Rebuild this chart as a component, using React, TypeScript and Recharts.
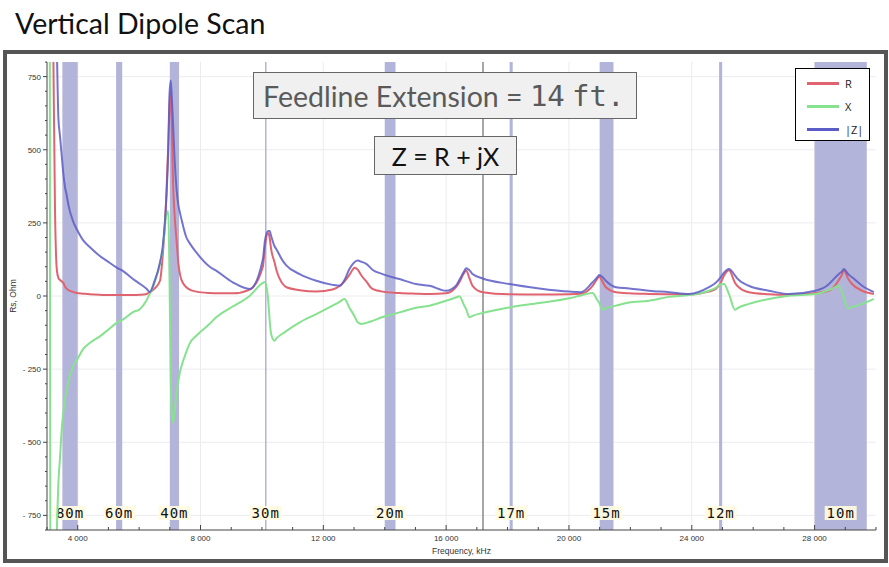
import React from "react";
import {
  LineChart, Line, XAxis, YAxis, CartesianGrid, ReferenceArea, ReferenceLine, Legend,
} from "recharts";

// scan points, kHz
const freqs = [
  3000, 3080, 3120, 3200, 3260, 3320, 3370, 3420, 3480, 3530, 3590, 3640, 3700, 3850, 3970,
  4180, 4400, 4720, 4940, 5270, 5480, 5800, 6020, 6240, 6350, 6500, 6680, 6770, 6890, 6950,
  6990, 7030, 7060, 7105, 7160, 7220, 7280, 7330, 7380, 7540, 7650, 7870, 8300, 8520, 9050,
  9600, 10030, 10100, 10200, 10250, 10300, 10410, 10470, 10680, 10800, 11230, 11770, 12300, 12530, 12690,
  12850, 13020, 13120, 13240, 13400, 13600, 13930, 14480, 15020, 15460, 16000, 16320, 16430, 16590, 16650,
  16760, 16860, 17190, 18060, 19030, 20010, 20390, 20770, 20930, 20980, 21090, 21200, 21530, 21960, 22610,
  23260, 23910, 24560, 24780, 24940, 25050, 25210, 25410, 25480, 25860, 26510, 27160, 28030, 28460, 28570,
  28790, 28900, 28950, 29090, 29220, 29550, 29930,
];
const rVals = [
  1500, 1800, 1600, 900, 300, 90, 62, 55, 50, 45, 32, 25, 20, 14, 10,
  8, 6, 4, 3, 3, 3, 3, 4, 7, 13, 25, 52, 140, 350, 520,
  650, 700, 600, 390, 270, 190, 110, 75, 55, 30, 22, 15, 10, 9, 9,
  22, 100, 170, 215, 200, 160, 115, 90, 41, 30, 20, 15, 22, 34, 50,
  72, 97, 90, 70, 50, 24, 15, 10, 8, 7, 9, 30, 47, 80, 87,
  60, 35, 13, 6, 5, 6, 8, 35, 60, 67, 50, 30, 13, 9, 7,
  6, 5, 15, 24, 45, 70, 88, 45, 35, 13, 6, 4, 10, 18, 25,
  55, 75, 88, 60, 41, 18, 7,
];
const xVals = [
  2500, 1800, -1800, -1400, -1000, -800, -640, -560, -455, -400, -350, -325, -290, -240, -220,
  -181, -160, -138, -120, -92, -80, -55, -45, -15, 8, 45, 110, 161, 280, 290,
  60, -280, -400, -433, -390, -330, -290, -260, -240, -190, -162, -135, -95, -72, -36,
  0, 45, 48, -10, -80, -130, -153, -145, -128, -119, -90, -62, -33, -20, -10,
  -40, -70, -90, -96, -92, -85, -72, -56, -40, -33, -16, -5, -1, -33, -45,
  -73, -68, -58, -39, -24, -8, 2, 10, -15, -22, -47, -42, -33, -22, -16,
  -3, 3, 18, 28, 40, 41, 7, -47, -42, -27, -10, 1, 7, 20, 25,
  35, 12, -5, -42, -38, -27, -10,
];
const zVals = [
  2900, 2600, 2500, 1700, 1100, 850, 610, 550, 480, 420, 370, 345, 310, 255, 228,
  190, 167, 137, 121, 97, 85, 58, 42, 25, 14, 50, 115, 170, 340, 500,
  690, 737, 690, 590, 460, 365, 310, 285, 262, 200, 180, 148, 100, 86, 47,
  24, 125, 190, 222, 222, 205, 170, 160, 120, 104, 75, 52, 38, 35, 55,
  92, 116, 121, 117, 110, 90, 75, 58, 41, 35, 18, 35, 55, 85, 95,
  88, 75, 60, 41, 26, 15, 13, 47, 65, 72, 65, 52, 30, 26, 18,
  13, 7, 30, 45, 64, 80, 92, 70, 60, 35, 18, 7, 18, 40, 52,
  75, 85, 92, 75, 64, 35, 13,
];

const bandNames = ["80m", "60m", "40m", "30m", "20m", "17m", "15m", "12m", "10m"];
const bandStart = [3500, 5250, 7000, 10100, 14000, 18068, 21000, 24890, 28000];
const bandEnd = [4000, 5450, 7300, 10150, 14350, 18168, 21450, 24990, 29700];

const cursorFreq = 17200;

const xMajorTicks = [4000, 8000, 12000, 16000, 20000, 24000, 28000];
const yMajorTicks = [-750, -500, -250, 0, 250, 500, 750];

const series = [
  { key: "r", name: "R", color: "#e0646f" },
  { key: "x", name: "X", color: "#86e28e" },
  { key: "z", name: "|Z|", color: "#5c5cc6" },
];

const data = freqs.map((f, i) => ({ f, r: rVals[i], x: xVals[i], z: zVals[i] }));

// minor ticks every 1000 kHz / 50 Ohm
const xTicks: number[] = [];
for (let v = 3000; v <= 30000; v += 1000) xTicks.push(v);
const yTicks: number[] = [];
for (let v = -800; v <= 800; v += 50) yTicks.push(v);

const tickFont = "'Liberation Sans', Arial, sans-serif";

const fmtX = (v: number) => {
  const s = String(v);
  return s.length > 3 ? s.slice(0, s.length - 3) + " " + s.slice(-3) : s;
};
const fmtY = (v: number) => (v < 0 ? "- " + Math.abs(v) : String(v));

const XTick = (props: any) => {
  const { x, y, payload } = props;
  const major = xMajorTicks.includes(payload.value);
  return (
    <g>
      <line x1={x} x2={x} y1={y} y2={y - (major ? 5 : 3)} stroke="#444" />
      {major && (
        <text x={x} y={y + 11} textAnchor="middle" fontSize={8} fontFamily={tickFont} fill="#333">
          {fmtX(payload.value)}
        </text>
      )}
    </g>
  );
};

const YTick = (props: any) => {
  const { x, y, payload } = props;
  const major = yMajorTicks.includes(payload.value);
  return (
    <g>
      <line x1={x} x2={x - (major ? 4 : 2)} y1={y} y2={y} stroke="#444" />
      {major && (
        <text x={x - 6} y={y + 3} textAnchor="end" fontSize={8} fontFamily={tickFont} fill="#333">
          {fmtY(payload.value)}
        </text>
      )}
    </g>
  );
};

const BandLabel = (name: string) => (props: any) => {
  const vb = props.viewBox;
  const cx = vb.x + vb.width / 2;
  const cy = vb.y + vb.height - 17;
  return (
    <g>
      <rect x={cx - 16} y={cy - 7} width={32} height={14} fill="#fffbe0" fillOpacity={0.92} />
      <text
        x={cx}
        y={cy + 5}
        textAnchor="middle"
        fontSize={14}
        letterSpacing={1}
        fontFamily="'DejaVu Sans Mono', monospace"
        fill="#111"
      >
        {name}
      </text>
    </g>
  );
};

const LegendBox = () => (
  <div
    style={{
      width: 75,
      height: 73,
      border: "1.5px solid #000",
      background: "#fff",
      fontFamily: "'Open Sans', sans-serif",
      fontSize: 11,
      boxSizing: "border-box",
      paddingTop: 3,
    }}
  >
    {series.map((s) => (
      <div key={s.key} style={{ display: "flex", alignItems: "center", height: 23 }}>
        <div style={{ width: 32, height: 3, background: s.color, marginLeft: 11, marginRight: 6 }} />
        <span style={{ color: "#222" }}>{s.name}</span>
      </div>
    ))}
  </div>
);

const YLabel = (props: any) => {
  const vb = props.viewBox;
  const x = 13;
  const y = vb.y + vb.height / 2;
  return (
    <text
      x={x}
      y={y}
      transform={`rotate(-90 ${x} ${y})`}
      textAnchor="middle"
      dominantBaseline="central"
      fontSize={8.5}
      fontFamily={tickFont}
      fill="#333"
    >
      Rs, Ohm
    </text>
  );
};

export default function App() {
  return (
    <div style={{ position: "absolute", left: 0, top: 0, width: 889, height: 567, background: "#fff" }}>
      <div
        style={{
          position: "absolute",
          left: 15,
          top: 9,
          fontFamily: "Lato, 'Open Sans', sans-serif",
          fontSize: 28.5,
          lineHeight: 1,
          color: "#111",
          whiteSpace: "nowrap",
        }}
      >
        Vertical Dipole Scan
      </div>
      <div
        style={{
          position: "absolute",
          left: 3,
          top: 50,
          width: 885,
          height: 513,
          border: "4px solid #555",
          boxSizing: "border-box",
        }}
      />
      <div style={{ position: "absolute", left: 0, top: 0 }}>
        <LineChart
          width={889}
          height={567}
          data={data}
          margin={{ top: 62, right: 13, bottom: 12, left: 7 }}
        >
          <CartesianGrid
            stroke="#ececf0"
            verticalValues={xMajorTicks}
            horizontalValues={yMajorTicks}
          />
          <XAxis
            dataKey="f"
            type="number"
            domain={[3000, 30000]}
            allowDataOverflow
            ticks={xTicks}
            interval={0}
            tick={<XTick />}
            tickLine={false}
            tickSize={0}
            tickMargin={0}
            height={25}
            stroke="#444"
            label={{
              value: "Frequency, kHz",
              position: "insideBottom",
              offset: 1,
              fontSize: 8.5,
              fontFamily: tickFont,
              fill: "#333",
            }}
          />
          <YAxis
            type="number"
            domain={[-800, 800]}
            allowDataOverflow
            ticks={yTicks}
            interval={0}
            tick={<YTick />}
            tickLine={false}
            tickSize={0}
            tickMargin={0}
            width={40}
            stroke="#444"
            label={<YLabel />}
          />
          {bandNames.map((name, i) => (
            <ReferenceArea
              key={name}
              x1={bandStart[i]}
              x2={bandEnd[i]}
              y1={-800}
              y2={800}
              fill="#b3b4d9"
              fillOpacity={1}
              stroke="none"
              ifOverflow="hidden"
              label={BandLabel(name)}
            />
          ))}
          <ReferenceLine x={cursorFreq} stroke="#888" strokeWidth={1.5} />
          {series.map((s) => (
            <Line
              key={s.key}
              dataKey={s.key}
              name={s.name}
              type="monotone"
              stroke={s.color}
              strokeWidth={2}
              strokeOpacity={s.key === "z" ? 0.85 : 1}
              dot={false}
              activeDot={false}
              isAnimationActive={false}
            />
          ))}
          <Legend
            layout="vertical"
            align="center"
            verticalAlign="middle"
            content={<LegendBox />}
            wrapperStyle={{ position: "absolute", left: 795, top: 68, width: 75, height: 73 }}
          />
        </LineChart>
      </div>
      <div
        style={{
          position: "absolute",
          left: 253,
          top: 72,
          width: 384,
          height: 47,
          boxSizing: "border-box",
          border: "1px solid #666",
          background: "#f0f0f0",
          color: "#5a5a5a",
          fontFamily: "Lato, 'Open Sans', sans-serif",
          fontSize: 28.5,
          display: "flex",
          alignItems: "center",
          paddingLeft: 9,
          whiteSpace: "nowrap",
        }}
      >
        Feedline Extension&nbsp;=&nbsp;
        <span style={{ fontFamily: "'DejaVu Sans Mono', monospace", fontSize: 29 }}>14</span>
        &nbsp;
        <span style={{ fontFamily: "'DejaVu Sans Mono', monospace", fontSize: 29 }}>ft.</span>
      </div>
      <div
        style={{
          position: "absolute",
          left: 374,
          top: 136,
          width: 143,
          height: 39,
          boxSizing: "border-box",
          border: "1px solid #666",
          background: "#f0f0f0",
          color: "#111",
          fontFamily: "Lato, 'Open Sans', sans-serif",
          fontSize: 25,
          display: "flex",
          alignItems: "center",
          justifyContent: "center",
          whiteSpace: "nowrap",
        }}
      >
        Z = R + jX
      </div>
    </div>
  );
}
